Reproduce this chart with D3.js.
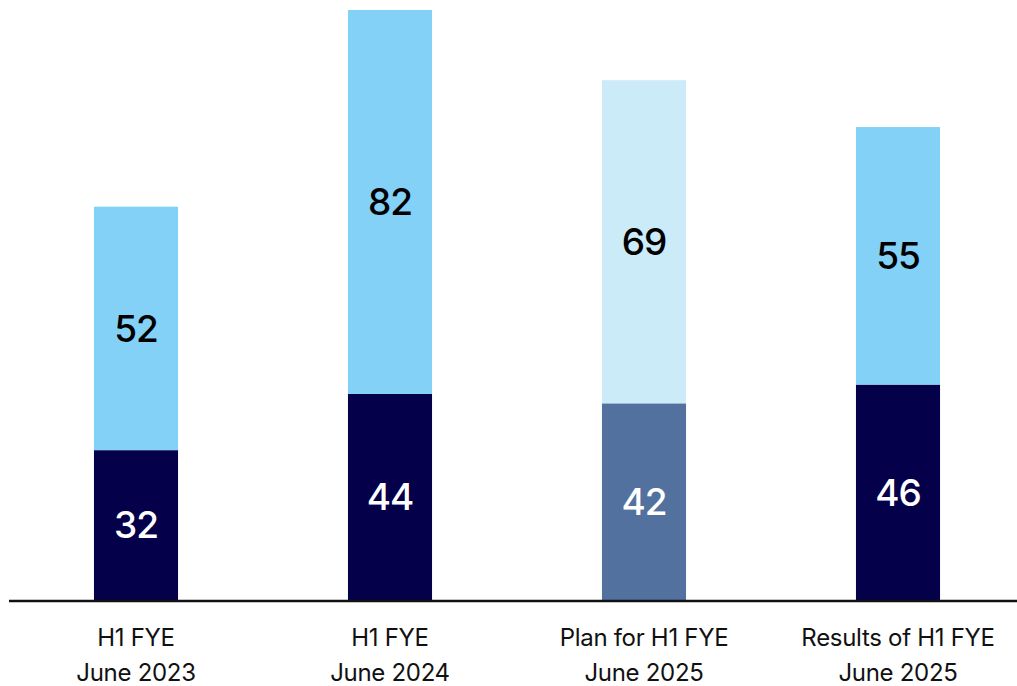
<!DOCTYPE html>
<html>
<head>
<meta charset="utf-8">
<script src="https://cdn.jsdelivr.net/npm/d3@7"></script>
<style>
  body { margin: 0; background: #fff; }
  svg text { font-family: "Inter", "Noto Sans", sans-serif; }
</style>
</head>
<body>
<div id="chart-area"></div>
<script>
// Data
var categories = [["H1 FYE", "June 2023"], ["H1 FYE", "June 2024"], ["Plan for H1 FYE", "June 2025"], ["Results of H1 FYE", "June 2025"]];
var lowerValues = [32, 44, 42, 46];
var upperValues = [52, 82, 69, 55];
var isPlan = [false, false, true, false];

var width = 1017;
var height = 686;
var baseline = 600;

var svg = d3.select("#chart-area").append("svg").attr("width", width).attr("height", height);

// Scales
var x = d3.scaleBand().domain(d3.range(categories.length)).range([9, 1025]).paddingInner(0.669).paddingOuter(0.3345);
var y = d3.scaleLinear().domain([0, 126]).range([baseline, 10]);

var colors = {
  lower: "#04004a", upper: "#83d1f6",
  planLower: "#53719f", planUpper: "#ccebf8"
};

var bars = svg.selectAll("g.bar").data(categories.map((c, i) => i)).enter().append("g").attr("class", "bar");

// lower segment
bars.append("rect")
  .attr("x", (i) => x(i)).attr("width", x.bandwidth())
  .attr("y", (i) => y(lowerValues[i]))
  .attr("height", (i) => baseline - y(lowerValues[i]))
  .attr("fill", (i) => isPlan[i] ? colors.planLower : colors.lower);

// upper segment
bars.append("rect")
  .attr("x", (i) => x(i)).attr("width", x.bandwidth())
  .attr("y", (i) => y(lowerValues[i] + upperValues[i]))
  .attr("height", (i) => y(lowerValues[i]) - y(lowerValues[i] + upperValues[i]))
  .attr("fill", (i) => isPlan[i] ? colors.planUpper : colors.upper);

// value labels
bars.append("text")
  .attr("x", (i) => x(i) + x.bandwidth() / 2)
  .attr("y", (i) => (y(0) + y(lowerValues[i])) / 2)
  .attr("dy", "0.36em").attr("text-anchor", "middle").attr("letter-spacing", "-1px")
  .attr("font-size", "37px").attr("font-weight", 500).style("fill", "#fff")
  .text((i) => lowerValues[i]);

bars.append("text")
  .attr("x", (i) => x(i) + x.bandwidth() / 2)
  .attr("y", (i) => (y(lowerValues[i]) + y(lowerValues[i] + upperValues[i])) / 2)
  .attr("dy", "0.36em").attr("text-anchor", "middle").attr("letter-spacing", "-1px")
  .attr("font-size", "37px").attr("font-weight", 500).style("fill", "#000")
  .text((i) => upperValues[i]);

// Axis
var xAxisGroup = svg.append("g").attr("class", "x axis").attr("transform", "translate(0, " + (baseline + 1) + ")");
xAxisGroup.call(d3.axisBottom(x).tickSize(0).tickFormat(""));
xAxisGroup.select(".domain").attr("d", "M9,0H" + width).attr("stroke", "#111").attr("stroke-width", 2.5);

// category labels
var labels = svg.selectAll("text.cat").data(categories).enter().append("text").attr("class", "cat")
  .attr("text-anchor", "middle").attr("font-size", "24px").attr("letter-spacing", "-0.3px").style("fill", "#111");
labels.each(function (d, i) {
  var t = d3.select(this);
  d.forEach((line, k) => {
    t.append("tspan").attr("x", x(i) + x.bandwidth() / 2).attr("y", 646 + k * 35).text(line);
  });
});
</script>
</body>
</html>
